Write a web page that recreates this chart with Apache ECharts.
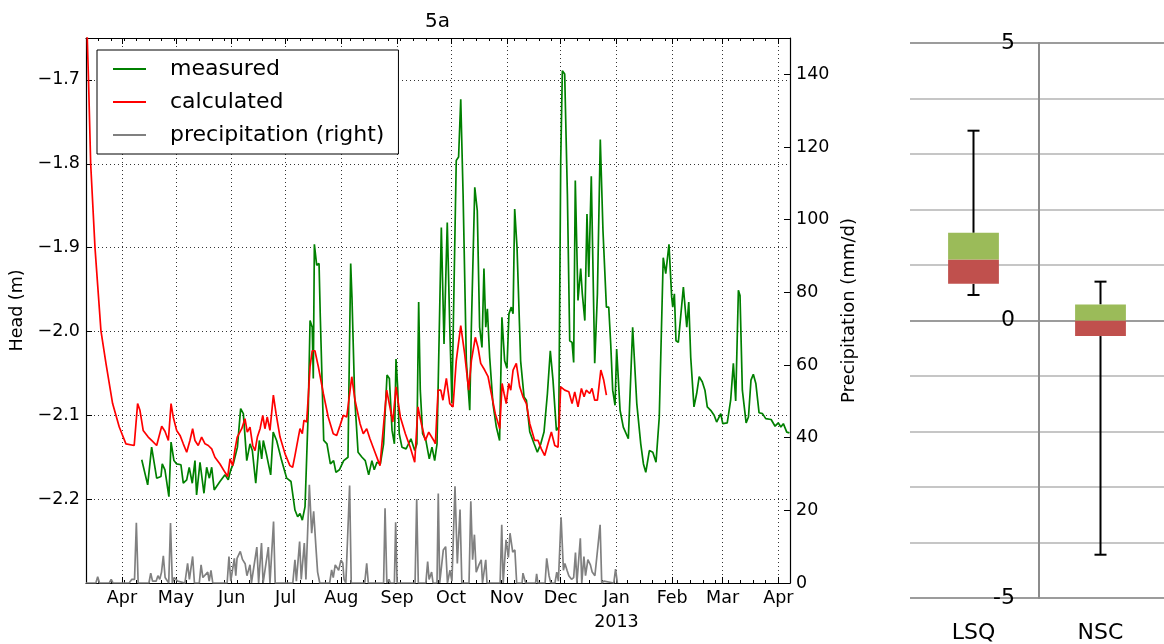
<!DOCTYPE html>
<html><head><meta charset="utf-8">
<script src="https://cdn.jsdelivr.net/npm/echarts@6/dist/echarts.min.js"></script>
<style>html,body{margin:0;padding:0;background:#fff}#c{width:1164px;height:644px}</style>
</head><body><div id="c"></div><script>
// x values: days since 2012-04-01
const monthTickDays = [0,30,61,91,122,153,183,214,244,275,306,334,365];
const monthTickLabels = ['Apr','May','Jun','Jul','Aug','Sep','Oct','Nov','Dec','Jan\n2013','Feb','Mar','Apr'];
const weekTickDays = [];
for (let d = -20; d <= 365; d += 7) weekTickDays.push(d);

const measured = [[11.0,-2.153],[14.3,-2.183],[16.5,-2.138],[19.3,-2.175],[21.7,-2.173],[22.4,-2.158],[23.9,-2.165],[26.1,-2.197],[27.3,-2.132],[28.9,-2.154],[30.4,-2.158],[32.8,-2.159],[34.1,-2.181],[36.0,-2.177],[37.4,-2.162],[39.1,-2.181],[40.6,-2.154],[41.5,-2.195],[43.4,-2.156],[45.6,-2.193],[47.1,-2.162],[48.6,-2.175],[49.9,-2.162],[51.3,-2.189],[54.5,-2.179],[57.3,-2.171],[59.1,-2.177],[60.5,-2.165],[61.9,-2.158],[64.2,-2.138],[66.0,-2.092],[67.5,-2.098],[69.4,-2.154],[71.2,-2.134],[72.5,-2.142],[74.4,-2.181],[76.4,-2.130],[77.7,-2.152],[78.6,-2.130],[80.5,-2.148],[82.7,-2.171],[84.1,-2.120],[86.0,-2.130],[88.8,-2.154],[91.6,-2.175],[94.0,-2.179],[96.2,-2.213],[97.7,-2.221],[99.0,-2.217],[100.3,-2.225],[101.8,-2.209],[102.7,-2.207],[103.6,-2.094],[104.6,-1.987],[105.8,-1.995],[106.4,-2.056],[107.0,-1.896],[108.3,-1.921],[109.6,-1.919],[110.3,-1.983],[112.2,-2.130],[114.0,-2.134],[115.9,-2.158],[117.7,-2.154],[119.0,-2.168],[120.9,-2.165],[123.3,-2.154],[125.7,-2.150],[126.4,-2.038],[127.2,-1.919],[127.9,-1.959],[129.4,-2.078],[131.3,-2.144],[133.5,-2.150],[135.3,-2.154],[137.2,-2.171],[139.0,-2.154],[140.3,-2.165],[141.8,-2.156],[143.7,-2.158],[145.5,-2.134],[147.4,-2.052],[148.7,-2.056],[150.2,-2.118],[151.5,-2.134],[152.4,-2.033],[153.3,-2.066],[154.2,-2.122],[155.7,-2.138],[158.0,-2.140],[160.7,-2.128],[162.8,-2.142],[164.0,-2.134],[165.0,-1.965],[165.9,-2.070],[167.2,-2.122],[169.0,-2.130],[170.9,-2.152],[172.4,-2.138],[173.9,-2.154],[175.2,-2.134],[177.6,-1.876],[179.1,-2.015],[180.9,-1.870],[182.3,-1.995],[183.5,-2.086],[185.9,-1.796],[187.2,-1.792],[188.4,-1.723],[189.7,-1.836],[191.5,-2.035],[193.4,-2.094],[194.3,-1.995],[196.2,-1.828],[197.6,-1.856],[198.9,-1.995],[200.2,-2.019],[201.3,-1.925],[202.3,-1.995],[203.2,-1.973],[204.5,-2.031],[206.3,-2.086],[208.2,-2.114],[210.0,-2.130],[211.3,-1.983],[212.8,-2.035],[214.1,-2.044],[215.2,-1.979],[216.5,-1.971],[217.5,-1.979],[218.4,-1.854],[219.7,-1.900],[221.7,-2.035],[223.6,-2.078],[224.9,-2.082],[226.8,-2.120],[229.2,-2.134],[231.0,-2.144],[232.9,-2.134],[234.7,-2.120],[236.6,-2.074],[238.2,-2.023],[239.7,-2.058],[241.6,-2.118],[242.9,-2.114],[244.0,-1.796],[244.9,-1.689],[246.2,-1.693],[247.7,-1.836],[249.0,-2.011],[250.3,-2.013],[251.2,-2.037],[252.1,-1.820],[253.6,-1.963],[255.1,-1.925],[256.0,-1.955],[257.4,-1.987],[258.6,-1.860],[259.6,-1.935],[261.0,-1.815],[262.9,-2.038],[264.4,-1.955],[266.0,-1.771],[267.5,-1.880],[269.4,-1.971],[270.7,-1.971],[271.8,-2.015],[272.9,-2.070],[274.2,-2.088],[275.1,-2.021],[277.0,-2.094],[278.8,-2.114],[281.6,-2.128],[284.0,-1.995],[286.3,-2.086],[288.5,-2.134],[290.0,-2.158],[291.3,-2.168],[293.3,-2.142],[295.2,-2.144],[297.0,-2.156],[298.8,-2.102],[301.0,-1.912],[302.4,-1.931],[304.2,-1.896],[305.7,-1.959],[306.3,-1.971],[307.2,-1.955],[308.1,-2.011],[309.4,-2.013],[312.2,-1.947],[314.1,-1.995],[315.2,-1.965],[316.3,-2.031],[318.1,-2.090],[319.6,-2.074],[321.0,-2.054],[322.7,-2.060],[324.2,-2.070],[325.5,-2.090],[327.4,-2.094],[329.3,-2.100],[330.7,-2.108],[333.0,-2.098],[334.1,-2.110],[336.6,-2.109],[338.5,-2.082],[340.0,-2.038],[341.3,-2.083],[342.8,-1.951],[343.7,-1.957],[345.0,-2.070],[347.1,-2.109],[348.4,-2.102],[349.8,-2.058],[351.1,-2.051],[352.5,-2.062],[354.3,-2.097],[356.2,-2.098],[358.0,-2.104],[361.0,-2.105],[363.2,-2.113],[365.0,-2.109],[366.4,-2.114],[367.8,-2.110],[369.7,-2.120],[371.2,-2.121]];

const calculated = [[-20,-1.58],[-19.3,-1.65],[-18.6,-1.70],[-17.4,-1.80],[-15.0,-1.90],[-13.5,-1.945],[-11.7,-1.999],[-8.9,-2.038],[-5.2,-2.086],[-1.5,-2.114],[2.2,-2.134],[6.8,-2.136],[8.7,-2.086],[10.0,-2.094],[11.8,-2.118],[14.6,-2.126],[16.5,-2.130],[19.3,-2.136],[22.1,-2.113],[23.9,-2.119],[25.8,-2.130],[27.3,-2.086],[28.5,-2.102],[30.4,-2.118],[32.3,-2.124],[34.1,-2.134],[36.0,-2.144],[37.8,-2.130],[39.3,-2.116],[40.6,-2.130],[42.4,-2.136],[44.3,-2.126],[46.2,-2.134],[48.0,-2.136],[49.9,-2.140],[51.7,-2.150],[54.5,-2.158],[57.3,-2.168],[58.8,-2.173],[60.1,-2.152],[61.6,-2.160],[62.9,-2.140],[64.1,-2.126],[66.6,-2.116],[68.4,-2.104],[69.7,-2.120],[71.2,-2.114],[72.7,-2.136],[74.0,-2.142],[75.3,-2.126],[76.8,-2.116],[78.3,-2.100],[79.5,-2.116],[80.8,-2.102],[82.3,-2.118],[84.2,-2.076],[85.7,-2.098],[87.9,-2.126],[90.7,-2.146],[93.4,-2.160],[94.9,-2.162],[96.2,-2.148],[98.1,-2.126],[99.0,-2.116],[100.3,-2.122],[101.2,-2.106],[102.7,-2.108],[103.6,-2.078],[104.6,-2.042],[105.8,-2.023],[107.3,-2.023],[109.2,-2.042],[112.0,-2.074],[114.7,-2.102],[117.5,-2.122],[119.4,-2.124],[121.3,-2.112],[123.1,-2.100],[125.0,-2.102],[127.8,-2.054],[129.6,-2.082],[132.4,-2.110],[134.2,-2.122],[136.1,-2.116],[137.9,-2.128],[140.7,-2.144],[143.5,-2.160],[147.2,-2.070],[150.6,-2.108],[152.4,-2.066],[154.8,-2.102],[157.6,-2.122],[160.3,-2.138],[162.8,-2.156],[164.6,-2.090],[166.5,-2.110],[168.7,-2.130],[170.6,-2.120],[173.4,-2.130],[174.3,-2.134],[175.8,-2.070],[177.3,-2.070],[178.5,-2.082],[180.4,-2.056],[182.3,-2.086],[184.1,-2.090],[185.9,-2.035],[188.4,-1.993],[190.6,-2.027],[192.8,-2.070],[194.3,-2.035],[196.5,-2.007],[198.0,-2.019],[199.5,-2.038],[201.7,-2.046],[203.6,-2.054],[205.4,-2.074],[207.6,-2.098],[210.1,-2.116],[211.4,-2.062],[212.5,-2.074],[213.7,-2.086],[215.1,-2.062],[216.2,-2.070],[217.5,-2.046],[219.3,-2.038],[221.2,-2.066],[223.0,-2.078],[224.9,-2.086],[226.8,-2.110],[229.5,-2.130],[231.4,-2.130],[233.2,-2.140],[235.1,-2.148],[236.9,-2.134],[238.8,-2.120],[240.7,-2.136],[242.5,-2.138],[244.0,-2.066],[246.2,-2.070],[248.5,-2.072],[250.3,-2.086],[251.8,-2.072],[253.6,-2.090],[255.5,-2.068],[257.0,-2.078],[258.2,-2.070],[260.1,-2.074],[261.4,-2.068],[262.9,-2.082],[264.4,-2.082],[266.3,-2.046],[267.9,-2.058],[269.4,-2.076]];

const precipitation = [[-20,0],[-14.5,0],[-13.5,1.7],[-12.5,0],[-7,0],[-6,1],[-5,0],[4,0],[5.5,1],[7,1],[8,16.6],[9,0],[10,0.5],[15,0],[16,2.7],[17,0.5],[19,0.5],[20,2],[21,1],[22,3],[23,7.5],[24,1.5],[26,0],[27,16.5],[28,0],[29,1.5],[30,2],[31,0.5],[32,0],[35,0],[36.5,5.4],[37.5,1],[39.3,7.3],[40.3,0],[43,0],[44,5],[45,1.5],[47.7,3],[48.5,0.5],[49.5,3.5],[50.5,0],[58.5,0],[59.5,7.3],[60.5,0.5],[62.5,6.8],[63.3,2],[64,6.8],[65.8,8.7],[67,6.5],[68.5,5.3],[69.5,2],[71.2,5],[72,0],[75,9.9],[76,0],[77.6,11],[78.5,0],[81.4,9.9],[82.3,0],[84.3,16.9],[85.2,0],[95,0],[96.2,6.4],[97,0.5],[98.8,11.4],[99.7,1],[101.4,11],[102.3,1],[104.2,27],[105.5,13.7],[106.6,19.7],[107.9,9.6],[108.8,3],[110,0],[115.5,0],[116.6,3.6],[117.5,1.5],[118.6,5],[119.7,5.5],[120.5,3.5],[121.8,6.3],[122.8,5.5],[123.5,1],[124.5,0],[126.6,26.8],[127.5,0],[135,0],[136.1,5.4],[137,0],[145.5,0],[146.3,20.6],[147.3,0],[148.5,1],[149.2,0],[151.5,0],[152.2,16.7],[153,0],[163,0],[163.9,23.1],[164.8,0],[169,0],[170,5.9],[170.8,1],[172.2,3],[173,0],[175.2,0],[175.9,24.6],[176.7,0],[178.7,9.1],[180,10],[181,0],[182.4,3.5],[183.5,0.5],[185.2,26.6],[186.5,5.4],[188,20.2],[189,0],[193,0],[194,22.5],[195,6.4],[196,13.3],[197,3],[198.5,5],[199.8,6.4],[200.5,0],[202.3,6.4],[203,0],[210.3,0],[211.2,16],[212,0],[213.6,11.9],[214.9,7],[215.8,13.7],[217.3,8.5],[218.5,9.1],[219.5,0],[222.5,0],[223,2.7],[223.6,3],[224.5,0],[230,0],[230.6,2.5],[231.3,0],[235.3,0],[236.2,6.8],[237.5,2],[238.5,0],[240.8,0],[241.8,3],[242.7,0.5],[243.4,0],[244.2,18.1],[245.5,3.5],[246.3,5.4],[247.5,3.5],[248.5,2],[250,1],[251.2,1.5],[252.2,8.4],[253,0],[254.9,12.3],[255.7,0],[256.9,7.3],[257.8,2],[259.1,6.4],[260.5,5],[261.5,3],[263,2],[265.9,16],[266.8,0],[268,0.5],[269,0],[273.5,0],[274.5,3.8],[275.5,0]];

const boxCategories = ['LSQ','NSC'];
const boxWhiskerLow = [0.46, -4.22];
const boxQ1 = [0.66, -0.28];
const boxMedian = [1.10, 0.0];
const boxQ3 = [1.58, 0.29];
const boxWhiskerHigh = [3.42, 0.70];

const FONT = 'DejaVu Sans';
const X_MIN = -20, X_MAX = 371.5;
const black = {lineStyle:{color:'#000', width:1.2}, onZero:false};
const dotted = {show:true, lineStyle:{color:'#000', width:0.8, type:[1,3]}};

const chart = echarts.init(document.getElementById('c'), null, {renderer:'canvas'});
chart.setOption({
  animation:false,
  backgroundColor:'#fff',
  textStyle:{fontFamily:FONT, color:'#000'},
  title:{text:'5a', left:425, top:12, padding:0, textStyle:{fontFamily:FONT, fontSize:20, fontWeight:'normal', color:'#000'}},
  legend:{
    orient:'vertical', left:97, top:50, padding:[6,14,6,16], itemGap:7,
    itemWidth:33, itemHeight:2, icon:'rect',
    backgroundColor:'#fff', borderColor:'#000', borderWidth:1, borderRadius:0,
    textStyle:{fontFamily:FONT, fontSize:22, lineHeight:26, color:'#000', padding:[0,0,0,19]},
    data:['measured','calculated','precipitation (right)']
  },
  grid:[
    {left:86, top:38, width:704, height:545},
    {left:910, top:43, width:258, height:555}
  ],
  xAxis:[
    {gridIndex:0, type:'value', min:X_MIN, max:X_MAX, position:'bottom',
     axisLine:black,
     axisTick:{customValues:monthTickDays, inside:true, length:6, lineStyle:{color:'#000'}},
     axisLabel:{customValues:monthTickDays, margin:3, fontSize:17.5, lineHeight:24, color:'#000', fontFamily:FONT,
       formatter:function(v){const i=monthTickDays.indexOf(Math.round(v)); return i>=0?monthTickLabels[i]:'';}},
     splitLine:dotted},
    {gridIndex:0, type:'value', min:X_MIN, max:X_MAX, position:'top',
     axisLine:black,
     axisTick:{customValues:monthTickDays, inside:true, length:6, lineStyle:{color:'#000'}},
     axisLabel:{show:false}, splitLine:{show:false}},
    {gridIndex:0, type:'value', min:X_MIN, max:X_MAX, position:'bottom',
     axisLine:{show:false, onZero:false},
     axisTick:{customValues:weekTickDays, inside:true, length:3, lineStyle:{color:'#000'}},
     axisLabel:{show:false}, splitLine:{show:false}},
    {gridIndex:0, type:'value', min:X_MIN, max:X_MAX, position:'top',
     axisLine:{show:false, onZero:false},
     axisTick:{customValues:weekTickDays, inside:true, length:3, lineStyle:{color:'#000'}},
     axisLabel:{show:false}, splitLine:{show:false}},
    {gridIndex:1, type:'category', data:boxCategories, boundaryGap:true, position:'bottom',
     axisLine:{show:false, onZero:false}, axisTick:{show:false},
     axisLabel:{margin:24, fontSize:22, color:'#000', fontFamily:FONT},
     splitLine:{show:false}}
  ],
  yAxis:[
    {gridIndex:0, type:'value', min:-2.3, max:-1.65, interval:0.1, position:'left',
     axisLine:black,
     axisTick:{inside:true, length:6, lineStyle:{color:'#000'}},
     axisLabel:{margin:6, fontSize:17.5, color:'#000', fontFamily:FONT, showMinLabel:false, showMaxLabel:false,
       formatter:function(v){return (v<0?'\u2212':'')+Math.abs(v).toFixed(1);}},
     splitLine:dotted,
     name:'Head (m)', nameLocation:'middle', nameGap:52, nameRotate:90,
     nameTextStyle:{fontSize:17.5, color:'#000', fontFamily:FONT}},
    {gridIndex:0, type:'value', min:0, max:150, interval:20, position:'right',
     axisLine:black,
     axisTick:{inside:true, length:6, lineStyle:{color:'#000'}},
     axisLabel:{margin:6, fontSize:17.5, color:'#000', fontFamily:FONT, showMaxLabel:false},
     splitLine:{show:false},
     name:'Precipitation (mm/d)', nameLocation:'middle', nameGap:40, nameRotate:90,
     nameTextStyle:{fontSize:18, color:'#000', fontFamily:FONT}},
    {gridIndex:1, type:'value', min:-5, max:5, interval:1, position:'left', offset:-129,
     axisLine:{show:true, onZero:false, lineStyle:{color:'#8c8c8c', width:2}},
     axisTick:{show:false},
     axisLabel:{margin:24, fontSize:22, color:'#000', fontFamily:FONT,
       formatter:function(v){return (Math.round(v)%5===0)?String(Math.round(v)):'';}},
     splitLine:{show:true, lineStyle:{width:2, color:['#9c9c9c','#c6c6c6','#c6c6c6','#c6c6c6','#c6c6c6','#9c9c9c','#c6c6c6','#c6c6c6','#c6c6c6','#c6c6c6','#9c9c9c']}}}
  ],
  series:[
    {name:'measured', type:'line', xAxisIndex:0, yAxisIndex:0, data:measured, showSymbol:false, symbol:'none',
     lineStyle:{color:'#008000', width:1.7}, itemStyle:{color:'#008000'}, z:3},
    {name:'calculated', type:'line', xAxisIndex:0, yAxisIndex:0, data:calculated, showSymbol:false, symbol:'none',
     lineStyle:{color:'#ff0000', width:1.7}, itemStyle:{color:'#ff0000'}, z:4},
    {name:'precipitation (right)', type:'line', xAxisIndex:0, yAxisIndex:1, data:precipitation, showSymbol:false, symbol:'none',
     lineStyle:{color:'#808080', width:1.7}, itemStyle:{color:'#808080'}, z:5},
    {type:'custom', xAxisIndex:4, yAxisIndex:2,
     data:boxCategories.map(function(c,i){return [i, boxWhiskerLow[i], boxQ1[i], boxMedian[i], boxQ3[i], boxWhiskerHigh[i]];}),
     encode:{x:0, y:[1,2,3,4,5]},
     renderItem:function(params, api){
       const i = api.value(0);
       const lo = api.coord([i, api.value(1)]);
       const q1 = api.coord([i, api.value(2)]);
       const md = api.coord([i, api.value(3)]);
       const q3 = api.coord([i, api.value(4)]);
       const hi = api.coord([i, api.value(5)]);
       const band = api.size([1,0])[0];
       const hw = band*0.2, cw = 6, x = lo[0];
       const ls = {stroke:'#000', lineWidth:2};
       return {type:'group', children:[
         {type:'line', shape:{x1:x, y1:hi[1], x2:x, y2:q3[1]}, style:ls},
         {type:'line', shape:{x1:x-cw, y1:hi[1], x2:x+cw, y2:hi[1]}, style:ls},
         {type:'line', shape:{x1:x, y1:q1[1], x2:x, y2:lo[1]}, style:ls},
         {type:'line', shape:{x1:x-cw, y1:lo[1], x2:x+cw, y2:lo[1]}, style:ls},
         {type:'rect', shape:{x:x-hw, y:md[1], width:2*hw, height:q1[1]-md[1]}, style:{fill:'#c0504d'}},
         {type:'rect', shape:{x:x-hw, y:q3[1], width:2*hw, height:md[1]-q3[1]}, style:{fill:'#9bbb59'}}
       ]};
     }}
  ]
});
</script></body></html>
